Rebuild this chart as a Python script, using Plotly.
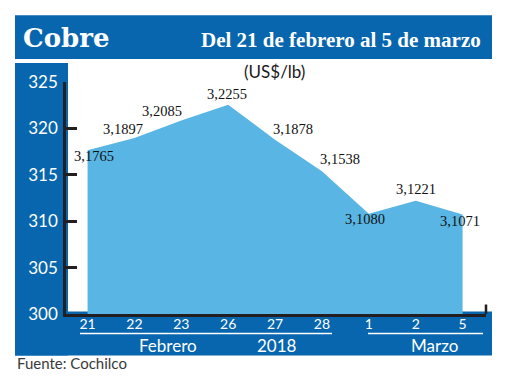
import plotly.graph_objects as go

# ---- data ----
days = ["21", "22", "23", "26", "27", "28", "1", "2", "5"]
prices = [317.65, 318.97, 320.85, 322.55, 318.78, 315.38, 310.80, 312.21, 310.71]
price_labels = ["3,1765", "3,1897", "3,2085", "3,2255", "3,1878", "3,1538", "3,1080", "3,1221", "3,1071"]
y_ticks = [300, 305, 310, 315, 320, 325]
group_labels = ["Febrero", "2018", "Marzo"]
title = "Cobre"
subtitle = "Del 21 de febrero al 5 de marzo"
unit = "(US$/lb)"
source = "Fuente: Cochilco"

W, H = 520, 390
L, R, T, B = 66, 486, 82, 314.5
BLUE = "#0866ae"
AREA = "#58b5e4"
INK = "#231f20"

def px(x):
    return (x - L) / (R - L)

def py(y):
    return (B - y) / (B - T)

fig = go.Figure()
fig.add_trace(go.Scatter(
    x=days, y=prices, mode="lines", fill="tozeroy",
    fillcolor=AREA, line=dict(width=0, color=AREA), hoverinfo="skip",
))

shapes = []
def rect(x0, y0, x1, y1, color):
    shapes.append(dict(type="rect", xref="paper", yref="paper",
                       x0=px(x0), x1=px(x1), y0=py(y1), y1=py(y0),
                       fillcolor=color, line=dict(width=0), layer="below"))

def line(x0, y0, x1, y1, color, w):
    shapes.append(dict(type="line", xref="paper", yref="paper",
                       x0=px(x0), x1=px(x1), y0=py(y0), y1=py(y1),
                       line=dict(color=color, width=w), layer="above"))

rect(15, 15, 492, 59, BLUE)      # header band
rect(15, 63, 68, 356, BLUE)      # left band
rect(15, 312, 492, 356, BLUE)    # bottom band
line(486, 305, 486, 314.5, INK, 2.5)   # right end tick
line(80, 334, 332, 334, "white", 1.5)
line(368, 334, 483, 334, "white", 1.5)

ann = []
def text(x, y, s, size, color, family, anchor="center", bold=False):
    ann.append(dict(xref="paper", yref="paper", x=px(x), y=py(y), text=("<b>%s</b>" % s) if bold else s,
                    showarrow=False, xanchor=anchor, yanchor="middle",
                    font=dict(size=size, color=color, family=family)))

text(21, 38, title, 26, "white", "DejaVu Serif", anchor="left", bold=True)
text(483, 40, subtitle, 21, "white", "Liberation Serif", anchor="right", bold=True)
text(274, 71, unit, 17, "#1a1a1a", "Lato")
text(168, 346, group_labels[0], 17, "white", "Lato")
text(277, 346, group_labels[1], 17, "white", "Lato")
text(434, 346, group_labels[2], 17, "white", "Lato")
text(15, 364, source, 15, "#3a3a3a", "Lato", anchor="left")

# value labels next to points (pixel offsets)
label_shift = [(6, -6), (-11, 9), (-19, 10), (-1, 11), (18, 11), (18, 12), (-4, -5), (0, 12), (-3, -6)]
for i, (v, s, (dx, dy)) in enumerate(zip(prices, price_labels, label_shift)):
    ann.append(dict(x=i, y=v, xref="x", yref="y", text=s, showarrow=False,
                    xshift=dx, yshift=dy, xanchor="center", yanchor="middle",
                    font=dict(size=14.5, color="#111111", family="Liberation Serif")))

fig.update_layout(
    width=W, height=H,
    margin=dict(l=L, r=W - R, t=T, b=H - B, pad=0),
    paper_bgcolor="white", plot_bgcolor="rgba(0,0,0,0)",
    showlegend=False, shapes=shapes, annotations=ann,
    xaxis=dict(type="category", range=[-0.46, 8.5], showgrid=False, zeroline=False,
               showline=True, linecolor=INK, linewidth=2.5, ticks="",
               tickfont=dict(size=14, color="white", family="Lato"), ticklabelstandoff=-5,
               fixedrange=True),
    yaxis=dict(range=[300, 325], tickvals=y_ticks, showgrid=False, zeroline=False,
               showline=True, linecolor=INK, linewidth=2.5, ticks="inside", ticklen=11,
               tickwidth=2.5, tickcolor=INK,
               tickfont=dict(size=17, color="white", family="Lato"), ticklabelstandoff=2,
               fixedrange=True),
)

fig.write_html("out.html", config={"displayModeBar": False},
               post_script="document.body.style.margin='0';")
